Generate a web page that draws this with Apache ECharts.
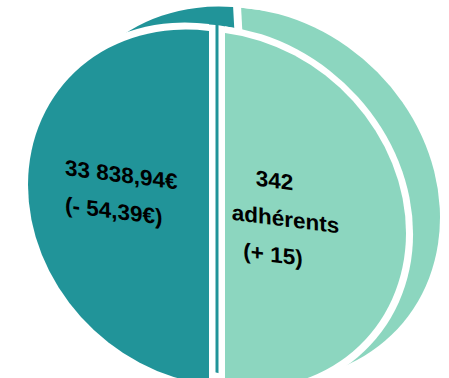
<!DOCTYPE html>
<html>
<head>
<meta charset="utf-8">
<script src="https://cdn.jsdelivr.net/npm/echarts@6/dist/echarts.min.js"></script>
<style>
  html, body { margin: 0; padding: 0; background: #fff; overflow: hidden; width: 449px; height: 378px; }
  /* the flat pie is tilted into a slanted, slightly flattened disc */
  #chart {
    position: absolute; left: 0; top: 0; width: 449px; height: 440px;
    transform-origin: 217px 209px;
    transform: skewY(7.24deg) scaleY(0.978);
  }
</style>
</head>
<body>
<div id="chart"></div>
<script>
// Two equal halves: treasury on the left, membership on the right
const categories = ['Trésorerie', 'Adhérents'];
const shares = [50, 50];
const totals = [33838.94, 342];
const changes = [-54.39, 15];
const colors = ['#219499', '#8CD6BF'];

function groupThousands(s) {
  return s.replace(/\B(?=(\d{3})+(?!\d))/g, ' ');
}
function euro(v) {
  const parts = Math.abs(v).toFixed(2).split('.');
  return groupThousands(parts[0]) + ',' + parts[1] + '€';
}
function signed(v, txt) {
  return '(' + (v < 0 ? '- ' : '+ ') + txt + ')';
}

const labelTexts = [
  '{a|' + euro(totals[0]) + '}\n{a|' + signed(changes[0], euro(changes[0])) + '}',
  '{b1|' + totals[1] + '}\n{b2|adhérents}\n{b3|' + signed(changes[1], String(Math.abs(changes[1]))) + '}'
];

const centerFront = [217, 209];
const centerBack = [247, 189];
const rFront = 181;
const rBack = 189;
const halo = 7;
const gap = 8;

function slices(colorList) {
  return shares.map((v, i) => ({
    name: categories[i],
    value: v,
    selected: true,
    itemStyle: { color: colorList[i] }
  }));
}

const base = {
  type: 'pie',
  clockwise: false,
  startAngle: 90,
  selectedMode: 'multiple',
  silent: true,
  animation: false,
  avoidLabelOverlap: false,
  label: { show: false },
  labelLine: { show: false },
  emphasis: { disabled: true },
  itemStyle: { borderWidth: 0 },
  select: { itemStyle: { borderWidth: 0 } }
};

const font = { fontFamily: '"Liberation Sans", Arial, sans-serif', fontWeight: 'bold', fontSize: 22.5, color: '#000', lineHeight: 38 };

const chart = echarts.init(document.getElementById('chart'), null, { renderer: 'svg' });
chart.setOption({
  animation: false,
  backgroundColor: 'transparent',
  series: [
    // depth of the disc, seen behind and above; its cut leans back to the left
    Object.assign({}, base, { name: 'depth', center: centerBack, radius: rBack, startAngle: 93, selectedOffset: 4, data: slices(colors) }),
    // white rim around each half
    Object.assign({}, base, { name: 'rim', center: centerFront, radius: rFront + halo, selectedOffset: gap, data: slices(['#fff', '#fff']) }),
    // white filler for the split, leaving a hairline of the depth visible
    Object.assign({}, base, { name: 'split', center: centerFront, radius: rFront + halo, selectedOffset: 1.5, data: slices(['#fff', '#fff']) }),
    // front face with labels
    Object.assign({}, base, {
      name: 'face', center: centerFront, radius: rFront, selectedOffset: gap, data: slices(colors),
      label: {
        show: true,
        position: 'inside',
        formatter: p => labelTexts[p.dataIndex],
        rich: {
          a: Object.assign({ width: 122, align: 'left' }, font),
          b1: Object.assign({ padding: [0, 9, 0, 0] }, font),
          b2: Object.assign({ padding: [0, 0, 0, 13] }, font),
          b3: Object.assign({ padding: [0, 12, 0, 0] }, font)
        }
      },
      labelLayout: p => p.dataIndex === 0 ? { dx: 10.5, dy: -3.5 } : { dx: -39.5, dy: 1.5 }
    })
  ]
});
</script>
</body>
</html>
